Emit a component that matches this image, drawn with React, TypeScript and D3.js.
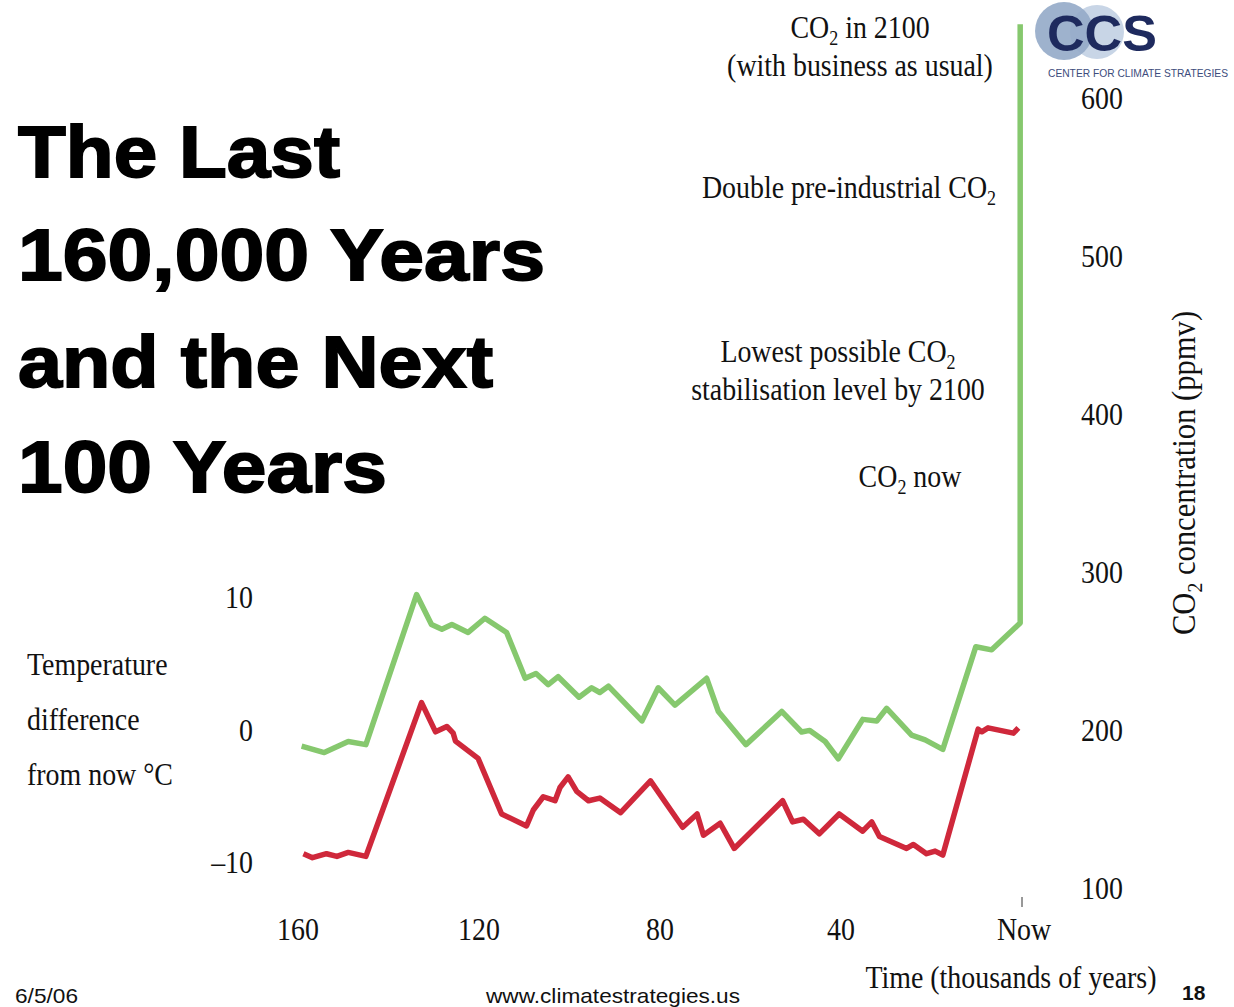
import React from "react";
import * as d3 from "d3";

// ---- Data ----
const co2Time = [159.2, 154.2, 148.9, 145.0, 133.8, 130.5, 128.2, 126.0, 122.4, 118.7, 113.9, 109.8, 107.4, 104.7, 102.5, 97.9, 95.1, 93.3, 91.4, 84.0, 80.4, 76.7, 69.7, 67.1, 61.0, 53.1, 48.7, 46.9, 43.5, 40.6, 35.2, 32.1, 29.9, 24.4, 21.4, 17.5, 10.2, 6.7, 0.4, 0.4];
const co2Values = [191, 187, 194, 192, 287, 268, 265, 268, 263, 272, 263, 234, 237, 230, 235, 222, 228, 225, 229, 207, 228, 217, 234, 213, 192, 213, 200, 201, 194, 183, 208, 207, 215, 198, 195, 189, 254, 252, 269, 648];

const tempTime = [158.8, 156.8, 153.7, 151.4, 148.9, 145.0, 132.7, 129.6, 127.1, 125.7, 125.2, 120.2, 115.0, 109.5, 108.0, 105.8, 103.2, 102.1, 100.3, 98.4, 95.8, 93.3, 88.7, 82.1, 75.0, 71.8, 70.4, 66.7, 63.6, 52.9, 50.7, 48.3, 44.8, 40.4, 35.2, 33.2, 31.5, 25.5, 24.0, 21.1, 19.2, 17.5, 9.7, 8.9, 7.5, 1.9, 0.8];
const tempValues = [-9.3, -9.6, -9.3, -9.5, -9.2, -9.5, 2.1, -0.1, 0.3, -0.2, -0.8, -2.1, -6.3, -7.2, -6.0, -5.0, -5.3, -4.3, -3.5, -4.6, -5.3, -5.1, -6.2, -3.8, -7.3, -6.3, -7.9, -7.0, -8.9, -5.3, -6.9, -6.7, -7.8, -6.3, -7.6, -6.9, -8.0, -8.9, -8.6, -9.3, -9.1, -9.4, 0.1, -0.1, 0.2, -0.2, 0.2];

const timeTicks = [160, 120, 80, 40];
const timeTickLabels = ["160", "120", "80", "40"];
const co2Ticks = [100, 200, 300, 400, 500, 600];
const tempTicks = [10, 0, -10];
const tempTickLabels = ["10", "0", "\u201310"];
const titleLines = ["The Last", "160,000 Years", "and the Next", "100 Years"];
const tempLabelLines = ["Temperature", "difference", "from now \u00b0C"];

const SERIF = "'Liberation Serif', 'Times New Roman', serif";
const SANS = "'Liberation Sans', Arial, sans-serif";
const SX = 0.9;

function ST({ x, y, anchor = "start", size = 31, children, rotate = 0 }: any) {
  return (
    <text
      transform={`translate(${x},${y}) rotate(${rotate}) scale(${SX},1)`}
      textAnchor={anchor}
      fontSize={size}
      fontFamily={SERIF}
      fill="#111"
    >
      {children}
    </text>
  );
}

// "CO" + subscript 2 + rest of text
function CO2({ after = "", subSize = 20 }: any) {
  return (
    <>
      <tspan>CO</tspan>
      <tspan fontSize={subSize} dy={7}>2</tspan>
      {after ? <tspan dy={-7}>{after}</tspan> : null}
    </>
  );
}

export default function App() {
  const x = d3.scaleLinear().domain([160, 0]).range([298, 1022]);
  const yCO2 = d3.scaleLinear().domain([100, 600]).range([890, 100]);
  const yTemp = d3.scaleLinear().domain([-10, 10]).range([863, 598]);

  const co2Line = d3
    .line<number>()
    .x((_, i) => x(co2Time[i]))
    .y((d) => yCO2(d));
  const tempLine = d3
    .line<number>()
    .x((_, i) => x(tempTime[i]))
    .y((d) => yTemp(d));

  const titleWidths = [322, 527, 475, 369];
  const titleBase = [177, 280, 387, 492];

  return (
    <svg
      width={1234}
      height={1007}
      style={{ position: "absolute", left: 0, top: 0, background: "#fff" }}
    >
      <rect width={1234} height={1007} fill="#fff" />

      {/* Title */}
      {titleLines.map((t, i) => (
        <text
          key={t}
          x={18}
          y={titleBase[i]}
          fontFamily={SANS}
          fontWeight={700}
          fontSize={73}
          fill="#000"
          stroke="#000"
          strokeWidth={1.8}
          textLength={titleWidths[i]}
          lengthAdjust="spacingAndGlyphs"
        >
          {t}
        </text>
      ))}

      {/* Logo */}
      <circle cx={1097} cy={32} r={27} fill="#c8d5e6" />
      <circle cx={1064} cy={31} r={29} fill="#93aac8" opacity={0.9} />
      <text
        x={1047}
        y={51}
        fontFamily={SANS}
        fontWeight={700}
        fontSize={50}
        fill="#1e2a5e"
        textLength={110}
        lengthAdjust="spacingAndGlyphs"
      >
        CCS
      </text>
      <text
        x={1048}
        y={77}
        fontFamily={SANS}
        fontSize={11.5}
        fill="#3d4c7c"
        textLength={180}
        lengthAdjust="spacingAndGlyphs"
      >
        CENTER FOR CLIMATE STRATEGIES
      </text>

      {/* Annotations */}
      <ST x={860} y={38} anchor="middle">
        <CO2 after=" in 2100" />
      </ST>
      <ST x={860} y={76} anchor="middle">(with business as usual)</ST>
      <ST x={849} y={198} anchor="middle">
        <tspan>Double pre-industrial </tspan>
        <CO2 />
      </ST>
      <ST x={838} y={362} anchor="middle">
        <tspan>Lowest possible </tspan>
        <CO2 />
      </ST>
      <ST x={838} y={400} anchor="middle">stabilisation level by 2100</ST>
      <ST x={910} y={487} anchor="middle">
        <CO2 after=" now" />
      </ST>

      {/* Left temperature label */}
      {tempLabelLines.map((t, i) => (
        <ST key={t} x={27} y={675 + i * 55}>
          {t}
        </ST>
      ))}

      {/* Temp ticks */}
      {tempTicks.map((v, i) => (
        <ST key={v} x={253} y={yTemp(v) + 10} anchor="end">
          {tempTickLabels[i]}
        </ST>
      ))}

      {/* CO2 ticks */}
      {co2Ticks.map((v) => (
        <ST key={v} x={1081} y={yCO2(v) + 9}>
          {String(v)}
        </ST>
      ))}

      {/* Right axis title */}
      <ST x={1195} y={473} anchor="middle" rotate={-90} size={34}>
        <CO2 after=" concentration (ppmv)" subSize={22} />
      </ST>

      {/* X ticks */}
      {timeTicks.map((v, i) => (
        <ST key={v} x={x(v)} y={940} anchor="middle">
          {timeTickLabels[i]}
        </ST>
      ))}
      <ST x={x(0) + 2} y={940} anchor="middle">Now</ST>
      <line x1={x(0)} x2={x(0)} y1={897} y2={907} stroke="#333" strokeWidth={1} />

      <ST x={1011} y={988} anchor="middle">Time (thousands of years)</ST>

      {/* Lines */}
      <path
        d={co2Line(co2Values) || ""}
        fill="none"
        stroke="#86c86e"
        strokeWidth={5.5}
        strokeLinejoin="round"
      />
      <path
        d={tempLine(tempValues) || ""}
        fill="none"
        stroke="#cf283b"
        strokeWidth={5.5}
        strokeLinejoin="round"
      />

      {/* Footer */}
      <text x={15} y={1003} fontFamily={SANS} fontSize={21} fill="#111" textLength={63} lengthAdjust="spacingAndGlyphs">
        6/5/06
      </text>
      <text x={486} y={1003} fontFamily={SANS} fontSize={21} fill="#111" textLength={254} lengthAdjust="spacingAndGlyphs">
        www.climatestrategies.us
      </text>
      <text x={1182} y={1000} fontFamily={SANS} fontWeight={700} fontSize={21} fill="#111">
        18
      </text>
    </svg>
  );
}
